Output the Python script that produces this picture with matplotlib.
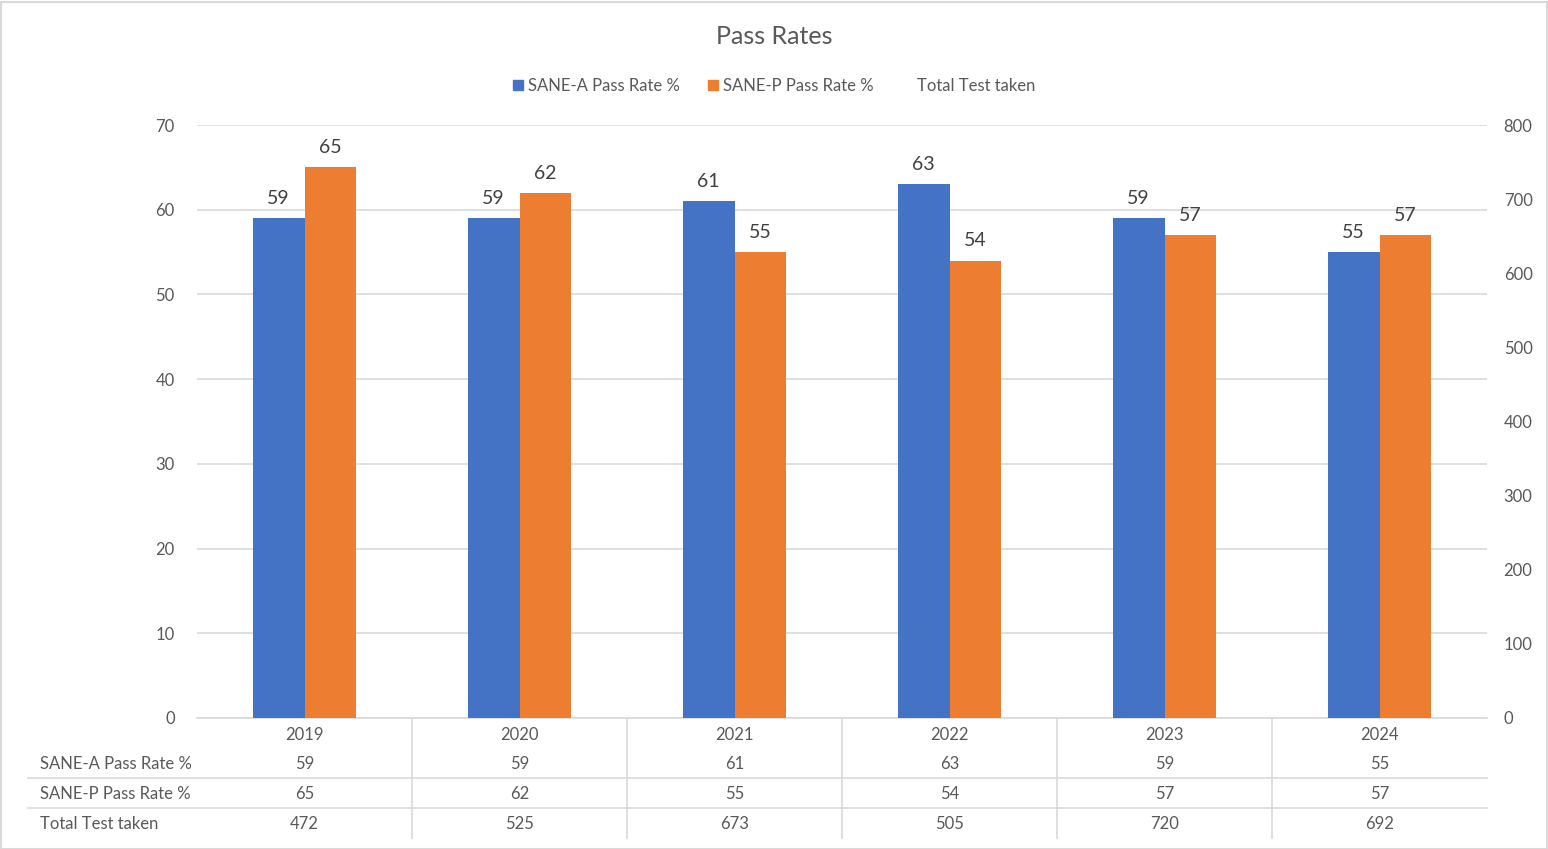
import numpy as np
import matplotlib
matplotlib.use("Agg")
import matplotlib.pyplot as plt
import matplotlib.transforms as mtransforms
from matplotlib.patches import Patch, Rectangle
from matplotlib.lines import Line2D

plt.rcParams['font.family'] = ['Lato', 'DejaVu Sans']

# data
years = ['2019', '2020', '2021', '2022', '2023', '2024']
sane_a = [59, 59, 61, 63, 59, 55]
sane_p = [65, 62, 55, 54, 57, 57]
total_tests = [472, 525, 673, 505, 720, 692]
row_names = ['SANE-A Pass Rate %', 'SANE-P Pass Rate %', 'Total Test taken']

BLUE = '#4472C4'
ORANGE = '#ED7D31'
GRID = '#D9D9D9'
TEXT = '#595959'

W, H = 1548, 849
fig = plt.figure(figsize=(W / 100, H / 100), dpi=100)

def fy(py):
    # pixel row -> figure fraction
    return 1 - py / H

left, right, top, bottom = 197, 1487, 125, 718
ax = fig.add_axes([left / W, fy(bottom), (right - left) / W, (bottom - top) / H])
ax2 = ax.twinx()

x = np.arange(len(years))
bw = 0.24
bars_a = ax.bar(x - bw / 2, sane_a, bw, color=BLUE, zorder=3)
bars_p = ax.bar(x + bw / 2, sane_p, bw, color=ORANGE, zorder=3)
for bars, vals in ((bars_a, sane_a), (bars_p, sane_p)):
    for b, v in zip(bars, vals):
        ax.annotate(str(v), (b.get_x() + b.get_width() / 2, v), xytext=(0, 8),
                    textcoords='offset points', ha='center', va='bottom',
                    fontsize=14, color='#404040')

# total tests sits on the secondary axis but has no visible line
ax2.plot(x, total_tests, linestyle='none', marker='none')

ax.set_xlim(-0.5, len(years) - 0.5)
ax.set_ylim(0, 70)
ax.set_yticks(range(0, 71, 10))
ax2.set_ylim(0, 800)
ax2.set_yticks(range(0, 801, 100))
ax.yaxis.grid(True, color=GRID, linewidth=1.2, zorder=0)
ax.set_axisbelow(True)
for a in (ax, ax2):
    for s in a.spines.values():
        s.set_visible(False)
    a.tick_params(length=0, labelsize=12, colors=TEXT)
ax.spines['bottom'].set_visible(True)
ax.spines['bottom'].set_color(GRID)
ax.spines['bottom'].set_linewidth(1.2)
ax.set_xticks([])
ax.tick_params(axis='y', pad=16)
ax2.tick_params(axis='y', pad=12)

# data table under the chart
tr = mtransforms.blended_transform_factory(ax.transData, fig.transFigure)
row_y = [735, 764, 794, 824]
for i, yr in enumerate(years):
    ax.text(i, fy(row_y[0]), yr, transform=tr, ha='center', va='center',
            fontsize=12, color=TEXT, clip_on=False)
    for r, vals in enumerate((sane_a, sane_p, total_tests)):
        ax.text(i, fy(row_y[r + 1]), str(vals[i]), transform=tr, ha='center',
                va='center', fontsize=12, color=TEXT, clip_on=False)
for r, name in enumerate(row_names):
    fig.text(40 / W, fy(row_y[r + 1]), name, ha='left', va='center',
             fontsize=12, color=TEXT)
for k in range(1, len(years)):
    fig.add_artist(Line2D([(left + k * (right - left) / len(years)) / W] * 2,
                          [fy(718), fy(838)], color=GRID, linewidth=1.2))
for py in (778, 808):
    fig.add_artist(Line2D([28 / W, right / W], [fy(py), fy(py)],
                          color=GRID, linewidth=1.2))

# outer border
fig.add_artist(Rectangle((0.5 / W, 0.5 / H), (W - 2) / W, (H - 2) / H,
                         transform=fig.transFigure, fill=False,
                         edgecolor=GRID, linewidth=1.5))

fig.text(0.5, fy(36), 'Pass Rates', ha='center', va='center',
         fontsize=18, color=TEXT)

handles = [Patch(color=BLUE), Patch(color=ORANGE),
           Line2D([], [], linestyle='none')]
fig.legend(handles, row_names, loc='center', bbox_to_anchor=(0.5, fy(86)),
           ncol=3, frameon=False, fontsize=12, labelcolor=TEXT,
           handlelength=0.6, handleheight=0.6, handletextpad=0.3,
           columnspacing=1.7)

fig.savefig('out.png', dpi=100)
